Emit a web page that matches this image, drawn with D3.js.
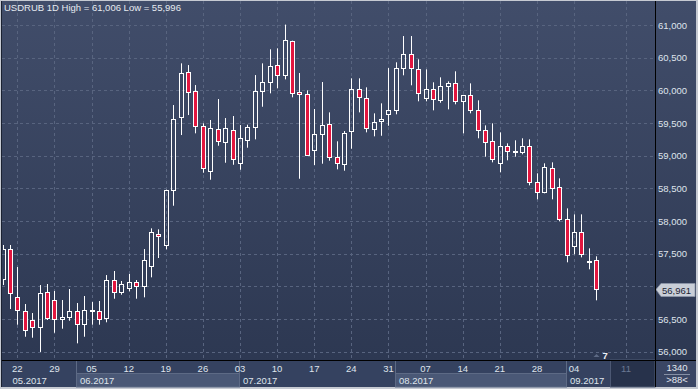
<!DOCTYPE html>
<meta charset="utf-8">
<style>
body { margin: 0; background: #c6cad2; }
svg { display: block; font-family: "Liberation Sans", Arial, sans-serif; }
</style>
<body>
<svg width="698" height="389"></svg>
<script src="https://d3js.org/d3.v7.min.js"></script>
<script>

// daily candles, 18.05.2017 .. 07.09.2017 (index 0..80)
var opens = [57112,57571,56832,56618,56485,56382,56909,56786,56495,56526,
             56618,56419,56618,56618,56511,57092,56909,56970,57062,57001,
             57307,57801,57628,58470,59596,60276,59985,59449,58760,59412,
             59204,59388,58883,59235,59434,59985,60123,60383,60230,60750,
             59969,59939,59082,59327,59480,58975,58877,59373,60015,59878,
             59403,59526,59633,59694,60337,60551,60321,59878,60015,59847,
             60061,60107,59832,59924,59694,59388,59220,58883,59143,59051,
             59051,59143,58592,58439,58806,58516,58026,57613,57827,57368,
             57398];
var highs = [57633,57633,57296,56730,56592,57020,57036,56929,56791,56959,
             56745,56852,56760,56776,57173,57235,57082,57189,57097,57571,
             57888,57873,58480,59775,60413,60387,60081,59495,59546,59867,
             59576,59607,59469,59474,60234,60413,60628,60643,61006,60760,
             60265,60000,59714,60127,59663,59220,59377,60184,60184,60046,
             59648,59801,60341,60429,60831,60831,60475,60321,60123,60199,
             60138,60291,59930,60107,59847,59464,59495,59357,59189,59235,
             59266,59250,58730,58883,58898,58653,58194,58102,58102,57582,
             57460];
var lows =  [57020,56653,56413,56229,56214,55996,56485,56290,56352,56474,
             56128,56229,56413,56413,56450,56811,56872,56924,56811,56832,
             57138,57434,57567,58234,59316,59622,59342,58739,58632,59152,
             58892,58861,58785,59122,59250,59749,59954,60031,60168,59893,
             58647,58995,58857,58877,58923,58791,58770,59106,59663,59357,
             59296,59305,59458,59633,60230,60077,59832,59832,59694,59810,
             59709,59786,59342,59648,59266,58984,58898,58745,58929,58984,
             59021,58546,58332,58424,58332,57995,57368,57490,57444,57261,
             56786];
var closes = [57571,56893,56633,56332,56382,56893,56511,56495,56526,56618,
              56419,56633,56633,56495,57092,56909,57031,57062,57001,57398,
              57836,57770,58474,59556,60260,59969,59449,58806,59419,59220,
              59419,58944,59266,59434,59985,60123,60367,60230,60765,59954,
              59939,59005,59327,59464,58975,58892,59342,60015,59893,59419,
              59510,59556,59694,60337,60551,60337,59954,60015,59862,60061,
              60107,59832,59924,59694,59388,59204,58944,59143,59067,59067,
              59143,58592,58439,58822,58500,58026,57475,57827,57490,57383,
              56961];

// bottom axis: week starts (candle index) and their day labels; 84 is a future date
var dayIdx = [2, 7, 12, 17, 22, 27, 32, 37, 42, 47, 52, 57, 62, 67, 72, 77, 84];
var dayLabels = ["22","29","05","12","19","26","03","10","17","24","31","07","14","21","28","04","11"];
var monthLabels = ["05.2017","06.2017","07.2017","08.2017","09.2017"];
var monthStart = [-6, 10, 32, 53, 76];
var yTicks = [56000, 56500, 57000, 57500, 58000, 58500, 59000, 59500, 60000, 60500, 61000];

var svg = d3.select("svg"),
    W = +svg.attr("width"),
    H = +svg.attr("height");

var L = 2, T = 1, R = 655, B = 360, RR = 696, BB = 387;

var x = d3.scaleLinear().domain([0, 80]).range([2.5, 596.3]);
var y = d3.scaleLinear().domain([56000, 61000]).range([351.7, 25]);
var fmt = d3.format(",");

var defs = svg.append("defs");
var grad = defs.append("linearGradient").attr("id", "bg")
    .attr("x1", 0).attr("y1", 0).attr("x2", 0).attr("y2", 1);
grad.append("stop").attr("offset", "0%").attr("stop-color", "#414d6a");
grad.append("stop").attr("offset", "100%").attr("stop-color", "#2d3852");
defs.append("clipPath").attr("id", "plotclip")
  .append("rect").attr("x", L + 1).attr("y", T).attr("width", R - L - 1).attr("height", B - T);

// frame + backgrounds
svg.append("rect").attr("width", W).attr("height", H).attr("fill", "#c6cad2");
svg.append("rect").attr("x", L - 1).attr("y", T).attr("width", RR - L + 1).attr("height", BB - T).attr("fill", "#1b2232");
svg.append("rect").attr("x", L).attr("y", T).attr("width", RR - L).attr("height", B - T).attr("fill", "url(#bg)");
svg.append("rect").attr("x", L).attr("y", B).attr("width", RR - L).attr("height", BB - B).attr("fill", "#354260");

// grid
var grid = svg.append("g").attr("stroke", "#58647f").attr("stroke-dasharray", "3,3").attr("stroke-width", 1);
grid.selectAll("line.h").data(yTicks).enter().append("line")
    .attr("x1", L).attr("x2", R)
    .attr("y1", function(d) { return Math.round(y(d)) + 0.5; })
    .attr("y2", function(d) { return Math.round(y(d)) + 0.5; });
grid.selectAll("line.v").data(dayIdx).enter().append("line")
    .attr("y1", T).attr("y2", B)
    .attr("x1", function(d) { return Math.round(x(d)) + 0.5; })
    .attr("x2", function(d) { return Math.round(x(d)) + 0.5; });

// candles
var candles = svg.append("g").attr("clip-path", "url(#plotclip)");
var idx = d3.range(opens.length);
var cg = candles.selectAll("g").data(idx).enter().append("g");
function cx(i) { return Math.round(x(i)) + 0.5; }
function bodyTop(i) { return Math.round(y(Math.max(opens[i], closes[i]))) + 0.5; }
function bodyBot(i) { return Math.max(Math.round(y(Math.min(opens[i], closes[i]))) + 0.5, bodyTop(i) + 1); }
cg.append("line").attr("stroke", "#fff").attr("stroke-width", 1)
    .attr("x1", cx).attr("x2", cx)
    .attr("y1", function(i) { return y(highs[i]); })
    .attr("y2", bodyTop);
cg.append("line").attr("stroke", "#fff").attr("stroke-width", 1)
    .attr("x1", cx).attr("x2", cx)
    .attr("y1", bodyBot)
    .attr("y2", function(i) { return y(lows[i]); });
cg.append("rect")
    .attr("x", function(i) { return cx(i) - 2; })
    .attr("width", 4)
    .attr("y", bodyTop)
    .attr("height", function(i) { return bodyBot(i) - bodyTop(i); })
    .attr("fill", function(i) { return closes[i] < opens[i] ? "#e2163f" : "none"; })
    .attr("stroke", "#fff").attr("stroke-width", 1);

// title
svg.append("text").attr("x", 4).attr("y", 11)
    .attr("font-size", "9.5px").attr("fill", "#e6eaf0")
    .text("USDRUB 1D High = " + fmt(d3.max(highs)) + " Low = " + fmt(d3.min(lows)));

// right axis (the tick hidden under the last-price box is skipped)
var lastY = Math.round(y(closes[closes.length - 1])) + 0.5;
var ya = svg.append("g");
ya.selectAll("text").data(yTicks.filter(function(d) { return Math.abs(y(d) - lastY) > 10; }))
  .enter().append("text")
    .attr("x", 658).attr("y", function(d) { return y(d) + 3.5; })
    .attr("font-size", "9.5px").attr("fill", "#dfe4ec")
    .text(function(d) { return fmt(d); });

// last price marker
svg.append("path")
    .attr("d", "M656," + lastY + "L661," + (lastY - 6) + "L695," + (lastY - 6) + "L695," + (lastY + 7) + "L661," + (lastY + 7) + "Z")
    .attr("fill", "#c9ced7").attr("stroke", "#8e97a9").attr("stroke-width", 0.8);
svg.append("text").attr("x", 662).attr("y", lastY + 4)
    .attr("font-size", "9.5px").attr("fill", "#1b2334")
    .text(fmt(closes[closes.length - 1]));

// bottom axis: month boxes
var mEnd = monthStart.slice(1).concat([81]);
monthStart.forEach(function(m, k) {
  var x0 = Math.max(Math.round(x(m)) - 0.5, L), x1 = Math.round(x(mEnd[k])) - 0.5;
  if (k % 2 == 1) {
    svg.append("rect").attr("x", x0).attr("y", 373.5).attr("width", x1 - x0).attr("height", BB - 373.5)
        .attr("fill", "#4a5876").attr("stroke", "#5d6a85").attr("stroke-width", 1);
  }
  if (m > 0) {
    svg.append("line").attr("x1", x0).attr("x2", x0).attr("y1", B).attr("y2", BB)
        .attr("stroke", "#5d6a85");
  }
  svg.append("text").attr("x", Math.max(x0, 9) + 3.5).attr("y", 383.5)
      .attr("font-size", "9.5px").attr("fill", "#dfe4ec").text(monthLabels[k]);
});

// future area
var fx = Math.round(x(82)) - 0.5;
svg.append("rect").attr("x", fx).attr("y", B).attr("width", R - fx).attr("height", BB - B)
    .attr("fill", "#27324b").attr("stroke", "#4c5873");

// day labels
svg.append("g").selectAll("text").data(dayIdx).enter().append("text")
    .attr("x", function(d) { return x(d); }).attr("y", 371.5)
    .attr("text-anchor", "middle").attr("font-size", "9.5px")
    .attr("fill", function(d) { return d > 80 ? "#6b7893" : "#dfe4ec"; })
    .text(function(d, k) { return dayLabels[k]; });

// current day marker
var lx = cx(80);
svg.append("path").attr("d", "M" + (lx - 3) + ",357L" + lx + ",354L" + (lx + 3) + ",357Z").attr("fill", "#5d6984");
svg.append("text").attr("x", lx + 6).attr("y", 358.5).attr("font-size", "9.5px")
    .attr("font-weight", "bold").attr("fill", "#eef1f5").text("7");

// corner panel
svg.append("rect").attr("x", R).attr("y", B).attr("width", RR - R).attr("height", BB - B).attr("fill", "#3a4664");
svg.append("text").attr("x", 677).attr("y", 371).attr("text-anchor", "middle")
    .attr("font-size", "9.5px").attr("fill", "#e3e7ee").text("1340");
svg.append("line").attr("x1", 664).attr("x2", 690).attr("y1", 374.5).attr("y2", 374.5).attr("stroke", "#8690a5");
svg.append("text").attr("x", 677).attr("y", 383).attr("text-anchor", "middle")
    .attr("font-size", "9.5px").attr("fill", "#e3e7ee").text(">88<");

// black separators
svg.append("line").attr("x1", L).attr("x2", RR).attr("y1", B + 0.5).attr("y2", B + 0.5).attr("stroke", "#000");
svg.append("line").attr("x1", R + 0.5).attr("x2", R + 0.5).attr("y1", T).attr("y2", BB).attr("stroke", "#000");

</script>
</body>
